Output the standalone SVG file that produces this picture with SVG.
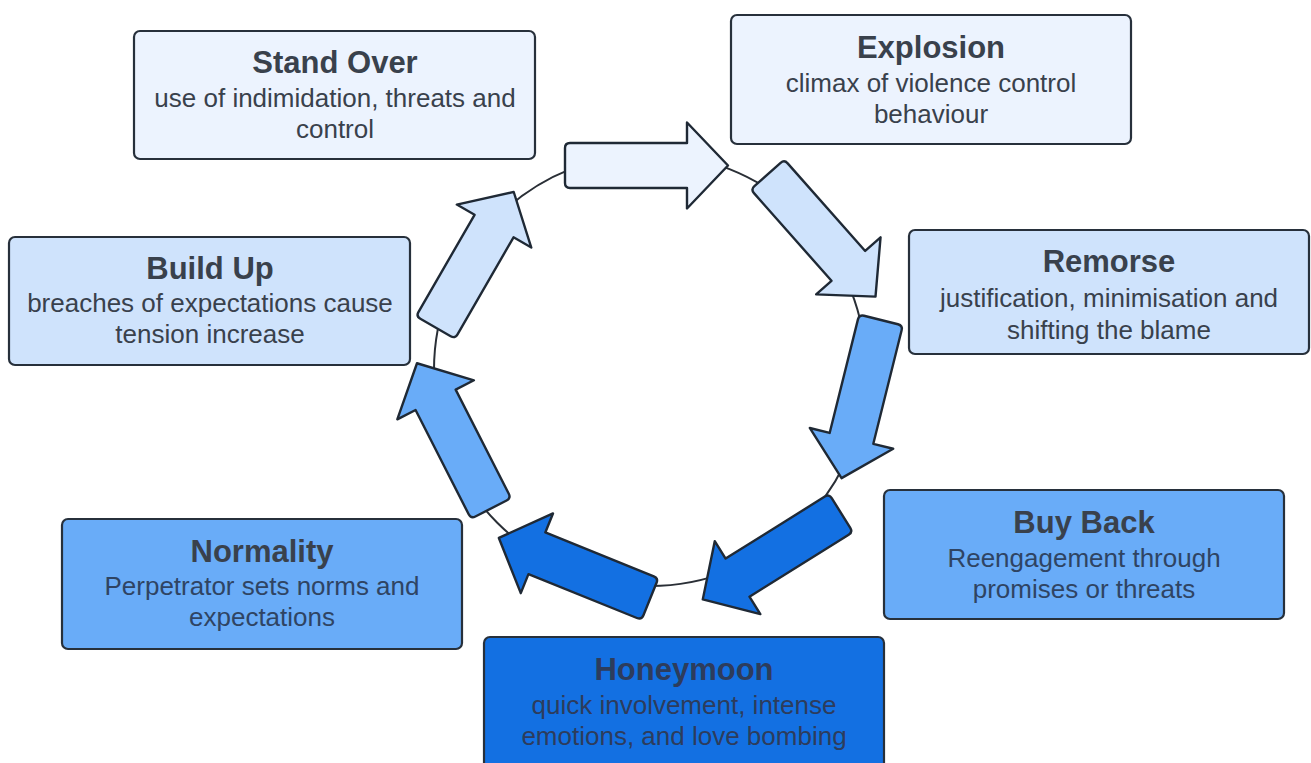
<svg xmlns="http://www.w3.org/2000/svg" width="1311" height="763" viewBox="0 0 1311 763">
<defs>
<style>
.box{stroke:#27303b;stroke-width:2.2}
.arr{stroke:#1f2935;stroke-width:2.4;stroke-linejoin:round}
.t{font-family:"Liberation Sans",Arial,sans-serif;font-weight:bold;font-size:31px;text-anchor:middle}
.b{font-family:"Liberation Sans",Arial,sans-serif;font-size:26px;text-anchor:middle}
.dk{fill:#39414c}
.md{fill:#2f4463}
.hn{fill:#2d3c5c}
.c1{fill:#ecf3fe}
.c2{fill:#cfe3fc}
.c3{fill:#69acf8}
.c4{fill:#1370e2}
</style>
<path id="ar" d="M5,-22.5 H122 V-43 L163,0 L122,43 V22.5 H5 Q0,22.5 0,17.5 V-17.5 Q0,-22.5 5,-22.5 Z"/>
</defs>
<rect width="1311" height="763" fill="#ffffff"/>
<g id="connectors">
<circle cx="650" cy="370" r="216" fill="none" stroke="#2a2f36" stroke-width="2"/>
<use href="#ar" class="arr c1" transform="translate(565,165.5) rotate(0)"/>
<use href="#ar" class="arr c2" transform="translate(767.5,174.5) rotate(48.5)"/>
<use href="#ar" class="arr c3" transform="translate(881,320) rotate(104)"/>
<use href="#ar" class="arr c4" transform="translate(841,513) rotate(148)"/>
<use href="#ar" class="arr c4" transform="translate(650,599) rotate(202)"/>
<use href="#ar" class="arr c3" transform="translate(491,508.5) rotate(243)"/>
<use href="#ar" class="arr c2" transform="translate(435.5,327.5) rotate(-60) scale(0.96,1)"/>
</g>
<g id="stand-over">
<rect class="box c1" x="134" y="31" width="401" height="128" rx="6"/>
<text class="t dk" x="335" y="73">Stand Over</text>
<text class="b dk" x="335" y="107">use of indimidation, threats and</text>
<text class="b dk" x="335" y="138">control</text>
</g>
<g id="explosion">
<rect class="box c1" x="731" y="15" width="400" height="129" rx="6"/>
<text class="t dk" x="931" y="58">Explosion</text>
<text class="b dk" x="931" y="92">climax of violence control</text>
<text class="b dk" x="931" y="123">behaviour</text>
</g>
<g id="remorse">
<rect class="box c2" x="909" y="230" width="400" height="124" rx="6"/>
<text class="t dk" x="1109" y="272">Remorse</text>
<text class="b dk" x="1109" y="307">justification, minimisation and</text>
<text class="b dk" x="1109" y="339">shifting the blame</text>
</g>
<g id="build-up">
<rect class="box c2" x="9" y="237" width="401" height="128" rx="6"/>
<text class="t dk" x="210" y="279">Build Up</text>
<text class="b dk" x="210" y="312">breaches of expectations cause</text>
<text class="b dk" x="210" y="343">tension increase</text>
</g>
<g id="buy-back">
<rect class="box c3" x="884" y="490" width="400" height="129" rx="6"/>
<text class="t dk" x="1084" y="533">Buy Back</text>
<text class="b md" x="1084" y="567">Reengagement through</text>
<text class="b md" x="1084" y="598">promises or threats</text>
</g>
<g id="normality">
<rect class="box c3" x="62" y="519" width="400" height="130" rx="6"/>
<text class="t dk" x="262" y="562">Normality</text>
<text class="b md" x="262" y="595">Perpetrator sets norms and</text>
<text class="b md" x="262" y="626">expectations</text>
</g>
<g id="honeymoon">
<rect class="box c4" x="484" y="637" width="400" height="140" rx="6"/>
<text class="t hn" x="684" y="680">Honeymoon</text>
<text class="b hn" x="684" y="714">quick involvement, intense</text>
<text class="b hn" x="684" y="745">emotions, and love bombing</text>
</g>
</svg>
